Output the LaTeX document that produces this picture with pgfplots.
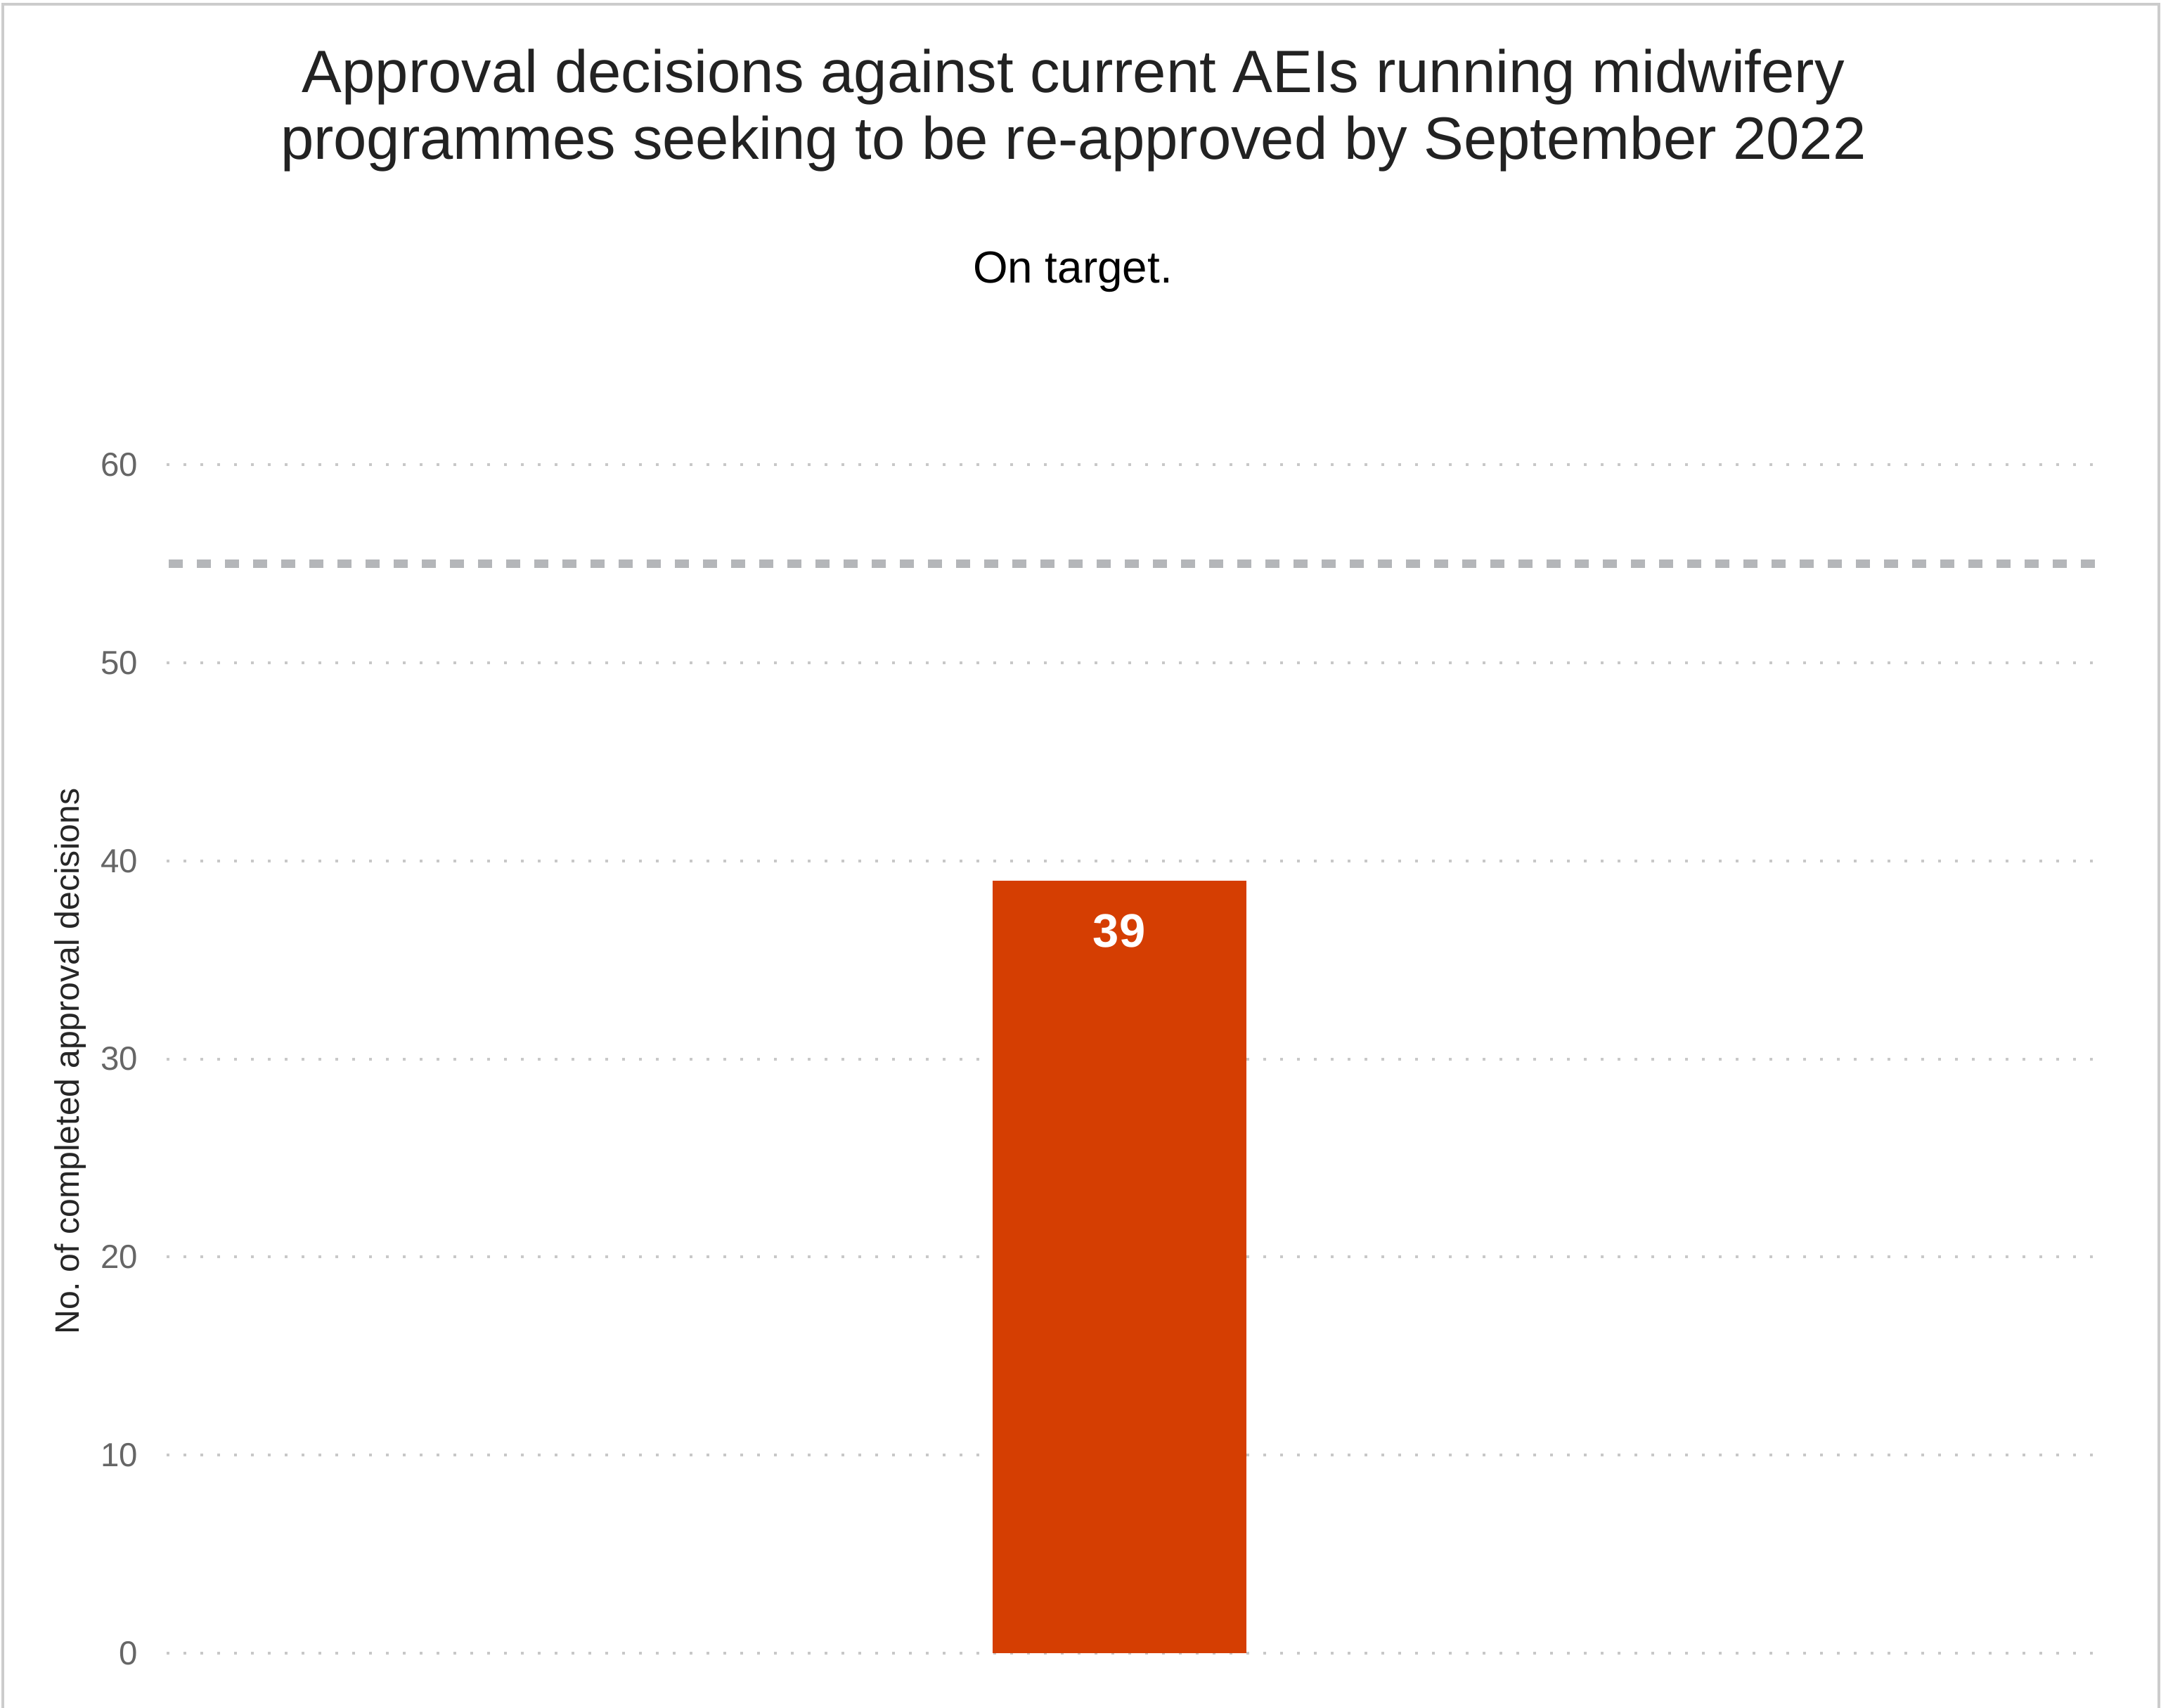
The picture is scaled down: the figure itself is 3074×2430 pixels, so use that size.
\documentclass[border=0pt]{standalone}
\usepackage{fontspec}
\setmainfont{Liberation Sans}
\usepackage{pgfplots}
\pgfplotsset{compat=1.18}
\definecolor{barcol}{RGB}{213,62,2}
\definecolor{framecol}{RGB}{204,204,204}
\definecolor{gridcol}{RGB}{200,200,200}
\definecolor{targetcol}{RGB}{180,182,185}
\definecolor{tickcol}{RGB}{102,102,102}
\definecolor{titlecol}{RGB}{34,34,34}
\begin{document}
\begin{tikzpicture}[x=0.25bp,y=-0.25bp]
\useasboundingbox (0,0) rectangle (3074,2430);
\draw[framecol, line width=1bp] (4,2430) -- (4,6) -- (3071,6) -- (3071,2430);
\node[anchor=base, text=titlecol, font=\fontsize{21.35}{24}\selectfont, inner sep=0pt] at (1527,131.7) {Approval decisions against current AEIs running midwifery};
\node[anchor=base, text=titlecol, font=\fontsize{21.35}{24}\selectfont, inner sep=0pt] at (1527,227) {programmes seeking to be re-approved by September 2022};
\node[anchor=base, text=black, font=\fontsize{16}{19}\selectfont, inner sep=0pt] at (1526,403) {On target.};
\node[rotate=90, anchor=center, text=black!85, font=\fontsize{12.1}{15}\selectfont, inner sep=0pt] at (100,1510) {No.\ of completed approval decisions};
\begin{axis}[
  at={(59.25bp,-588bp)}, anchor=south west,
  scale only axis, width=685.75bp, height=422.75bp,
  xmin=0, xmax=1, ymin=0, ymax=60,
  xtick=\empty,
  ytick={0,10,20,30,40,50,60},
  axis line style={draw=none},
  major tick length=0pt,
  ymajorgrids,
  major grid style={gridcol, line width=1bp, dash pattern=on 1bp off 5bp},
  /pgf/number format/assume math mode=true,
  yticklabel style={font=\fontsize{11.9}{14}\selectfont, text=tickcol, inner sep=0pt, xshift=-10bp},
  clip=false,
]
\addplot[targetcol, line width=3bp, dash pattern=on 5bp off 5bp, forget plot] coordinates {(0.001,55) (1,55)};
\addplot[ybar, fill=barcol, draw=none, bar width=90.2bp, bar shift=0pt,
  nodes near coords,
  every node near coord/.append style={anchor=center, yshift=-18bp, text=white, font=\fontsize{16.8}{20}\bfseries\selectfont, inner sep=0pt}]
  coordinates {(0.494,39)};
\end{axis}
\end{tikzpicture}
\end{document}
